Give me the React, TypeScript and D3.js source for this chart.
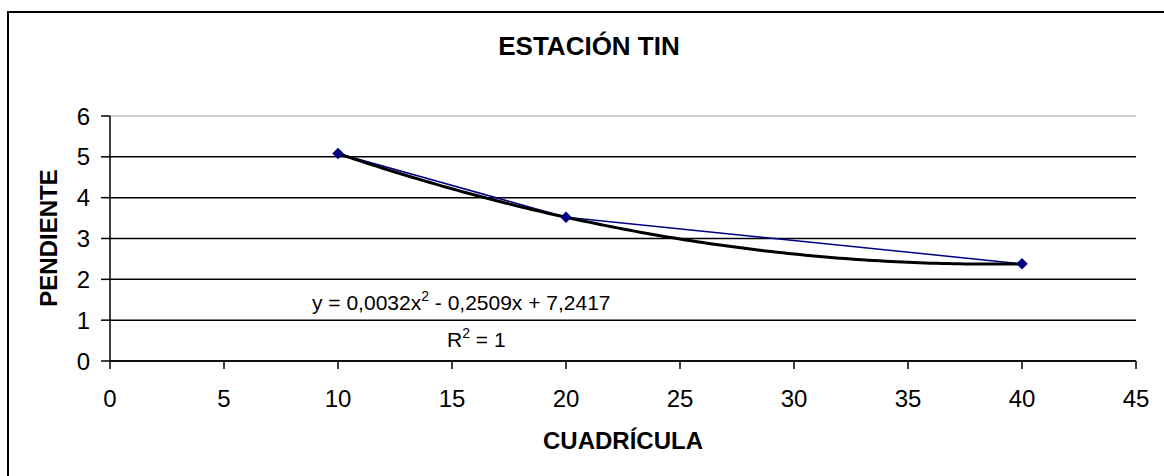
import * as d3 from "d3";
import React from "react";

// datos
const cuadricula = [10, 20, 40];
const pendiente = [5.08, 3.52, 2.38];
const xTicks = [0, 5, 10, 15, 20, 25, 30, 35, 40, 45];
const yTicks = [0, 1, 2, 3, 4, 5, 6];
const equationLabel = ["y = 0,0032x", "2", " - 0,2509x + 7,2417"];

const W = 1164;
const H = 476;
const margin = { left: 110, right: 1136, top: 116, bottom: 361 };
const FONT = "'Liberation Sans', Arial, sans-serif";

// ajuste polinómico de grado 2 (mínimos cuadrados) a partir de los puntos
function polyFit2(xs: number[], ys: number[]) {
  const s = (p: number, q: number) =>
    d3.sum(xs, (x, i) => Math.pow(x, p) * Math.pow(ys[i], q));
  const M = [
    [s(0, 0), s(1, 0), s(2, 0), s(0, 1)],
    [s(1, 0), s(2, 0), s(3, 0), s(1, 1)],
    [s(2, 0), s(3, 0), s(4, 0), s(2, 1)],
  ];
  const n = 3;
  for (let i = 0; i < n; i++) {
    for (let k = i + 1; k < n; k++) {
      const f = M[k][i] / M[i][i];
      for (let j = i; j <= n; j++) M[k][j] -= f * M[i][j];
    }
  }
  const c = [0, 0, 0];
  for (let i = n - 1; i >= 0; i--) {
    let v = M[i][n];
    for (let j = i + 1; j < n; j++) v -= M[i][j] * c[j];
    c[i] = v / M[i][i];
  }
  return (x: number) => c[0] + c[1] * x + c[2] * x * x;
}

export default function App() {
  const x = d3.scaleLinear().domain([0, 45]).range([margin.left, margin.right]);
  const y = d3.scaleLinear().domain([0, 6]).range([margin.bottom, margin.top]);

  const pts = cuadricula.map((c, i) => [c, pendiente[i]] as [number, number]);
  const line = d3
    .line<[number, number]>()
    .x((d) => x(d[0]))
    .y((d) => y(d[1]));

  const fit = polyFit2(cuadricula, pendiente);
  const [x0, x1] = d3.extent(cuadricula) as [number, number];
  const trendPts = d3.range(x0, x1 + 0.001, 0.25).map((v) => [v, fit(v)] as [number, number]);

  const diamond = d3.symbol().type(d3.symbolDiamond2).size(85)();

  return (
    <svg
      width={W}
      height={H}
      style={{ position: "absolute", left: 0, top: 0, background: "#fff" }}
      fontFamily={FONT}
    >
      <rect x={8} y={12} width={W} height={H} fill="#fff" stroke="#000" strokeWidth={2} />

      <text x={589} y={55} textAnchor="middle" fontSize={26} fontWeight="bold">
        ESTACIÓN TIN
      </text>

      {/* líneas de división */}
      {yTicks.map((t) => (
        <line
          key={"g" + t}
          x1={margin.left}
          x2={margin.right}
          y1={y(t)}
          y2={y(t)}
          stroke={t === 6 ? "#bbb" : "#000"}
          strokeWidth={1.5}
        />
      ))}

      {/* eje Y */}
      <line x1={margin.left} x2={margin.left} y1={margin.top} y2={margin.bottom} stroke="#000" strokeWidth={1.5} />
      {yTicks.map((t) => (
        <g key={"y" + t}>
          <line x1={margin.left - 9} x2={margin.left} y1={y(t)} y2={y(t)} stroke="#000" strokeWidth={1.5} />
          <text x={90} y={y(t)} dy="0.36em" textAnchor="end" fontSize={24}>
            {t}
          </text>
        </g>
      ))}

      {/* eje X */}
      <line x1={margin.left} x2={margin.right} y1={margin.bottom} y2={margin.bottom} stroke="#000" strokeWidth={1.5} />
      {xTicks.map((t) => (
        <g key={"x" + t}>
          <line x1={x(t)} x2={x(t)} y1={margin.bottom} y2={margin.bottom + 8} stroke="#000" strokeWidth={1.5} />
          <text x={x(t)} y={407} textAnchor="middle" fontSize={24}>
            {t}
          </text>
        </g>
      ))}

      <text x={623} y={449} textAnchor="middle" fontSize={24} fontWeight="bold">
        CUADRÍCULA
      </text>
      <text transform={`translate(57,238) rotate(-90)`} textAnchor="middle" fontSize={24} fontWeight="bold">
        PENDIENTE
      </text>

      {/* serie */}
      <path d={line(pts) ?? ""} fill="none" stroke="#000080" strokeWidth={1.5} />

      {/* línea de tendencia */}
      <path d={line(trendPts) ?? ""} fill="none" stroke="#000" strokeWidth={3} strokeLinejoin="round" />

      {pts.map((p, i) => (
        <path key={"m" + i} d={diamond ?? ""} transform={`translate(${x(p[0])},${y(p[1])})`} fill="#000080" />
      ))}

      {/* etiqueta de la tendencia */}
      <text x={312} y={310} fontSize={21}>
        {equationLabel[0]}
        <tspan dy={-9} fontSize={14}>
          {equationLabel[1]}
        </tspan>
        <tspan dy={9}>{equationLabel[2]}</tspan>
      </text>
      <text x={447} y={347} fontSize={21}>
        R<tspan dy={-9} fontSize={14}>2</tspan>
        <tspan dy={9}> = 1</tspan>
      </text>
    </svg>
  );
}
